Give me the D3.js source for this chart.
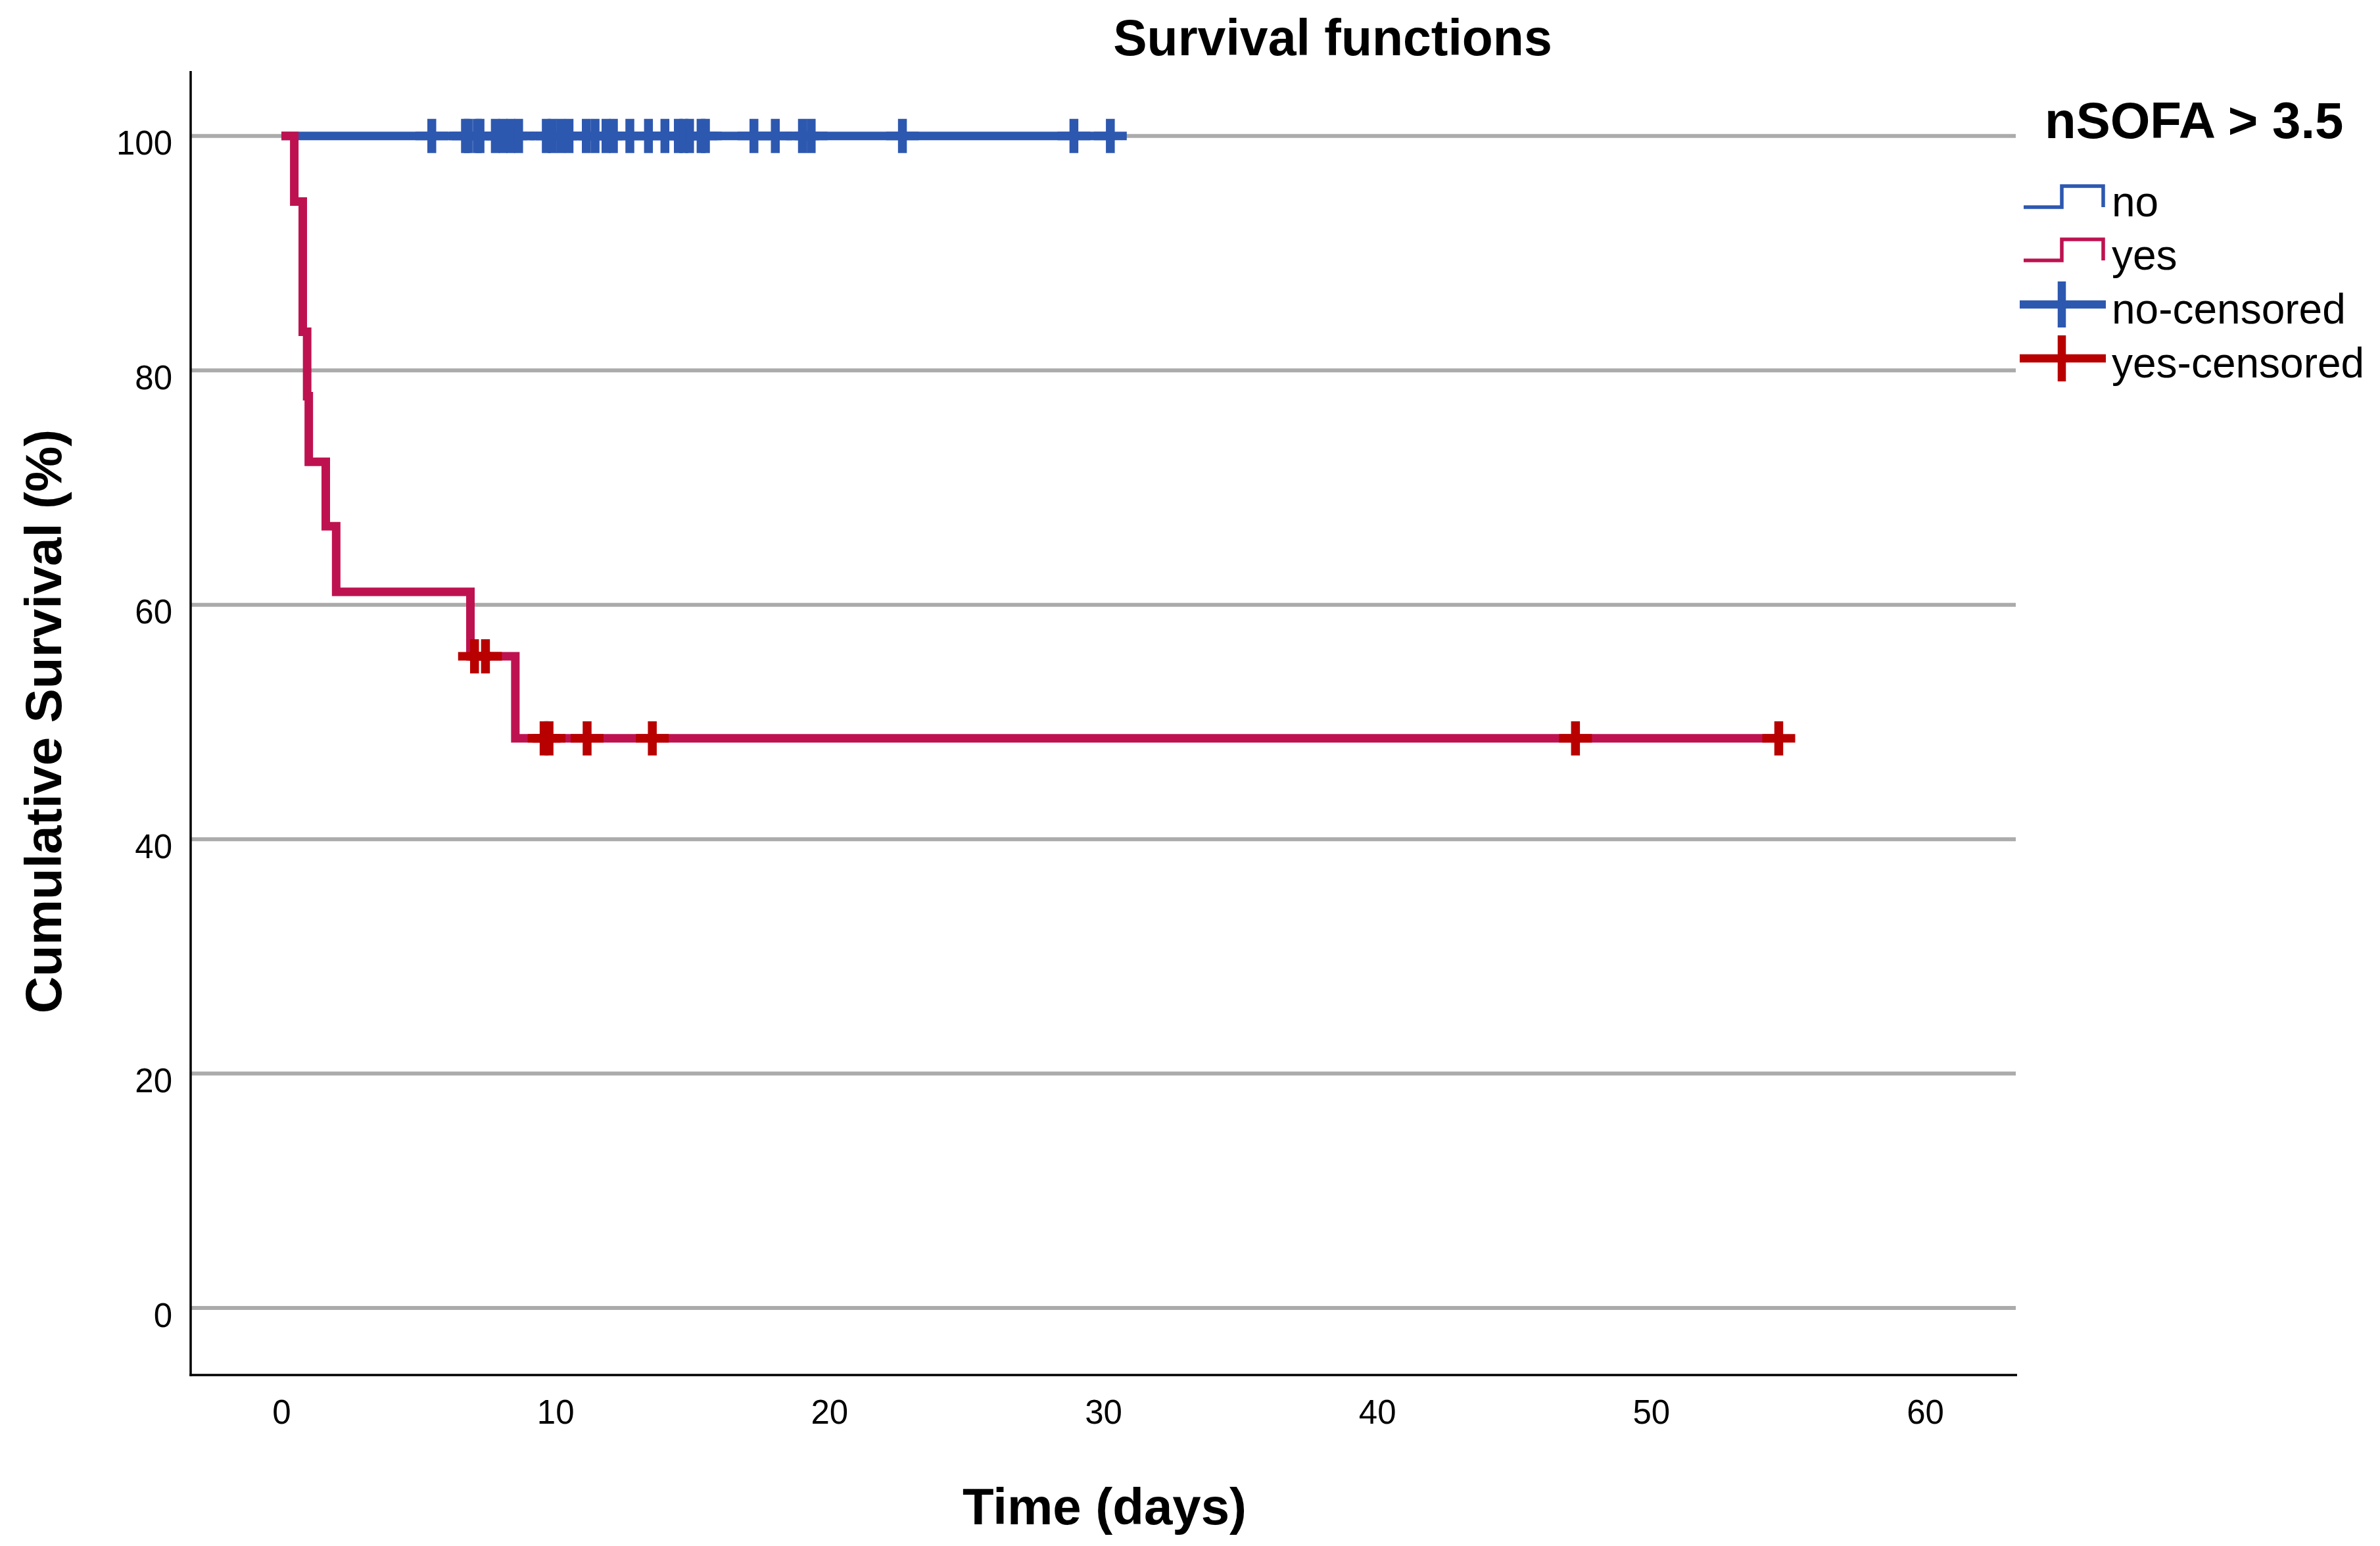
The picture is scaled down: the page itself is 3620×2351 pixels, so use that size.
<!DOCTYPE html>
<html>
<head>
<meta charset="utf-8">
<script src="https://cdn.jsdelivr.net/npm/d3@7"></script>
<style>
  html, body { margin: 0; padding: 0; background: #ffffff; }
  svg { display: block; }
  text { font-family: "Liberation Sans", Arial, sans-serif; fill: #000; }
</style>
</head>
<body>
<svg id="chart" width="3620" height="2351"></svg>
<script>
// ---------- data ----------
const chartTitle = "Survival functions";
const xLabel = "Time (days)";
const yLabel = "Cumulative Survival (%)";
const legendTitle = "nSOFA > 3.5";
const legendLabels = ["no", "yes", "no-censored", "yes-censored"];

const xTicks = [0, 10, 20, 30, 40, 50, 60];
const yTicks = [0, 20, 40, 60, 80, 100];

// group "yes": event times and survival (%) after each step
const yesTimes = [0, 0.47, 0.78, 0.94, 1.0, 1.62, 2.0, 6.9, 8.54];
const yesSurv  = [100, 94.4, 83.3, 77.8, 72.2, 66.7, 61.1, 55.6, 48.6];
const yesCensoredTimes = [7.05, 7.45, 9.59, 9.77, 11.16, 13.54, 47.24, 54.66];
const yesCensoredSurv  = [55.6, 55.6, 48.6, 48.6, 48.6, 48.6, 48.6, 48.6];

// group "no": no events, survival stays at 100 %
const noTimes = [0];
const noSurv  = [100];
const noCensoredTimes = [5.49, 6.72, 6.82, 7.15, 7.25, 7.81, 8.09, 8.37, 8.66,
  9.67, 9.89, 10.2, 10.5, 11.13, 11.45, 11.85, 12.12, 12.72, 13.4, 14.0,
  14.49, 14.69, 14.9, 15.32, 15.48, 17.25, 18.03, 19.02, 19.34, 22.67,
  28.93, 30.26];

// ---------- styles ----------
const colNo = "#2D58B0";
const colYes = "#BE1250";
const colYesCens = "#B80000";
const colGrid = "#ABABAB";

const svg = d3.select("#chart");

const x = d3.scaleLinear().domain([-3.312, 63.36]).range([290, 3068]);
const y = d3.scaleLinear().domain([-5.72, 105.54]).range([2091, 108]);

// gridlines
svg.append("g").selectAll("line").data(yTicks).join("line")
  .attr("x1", 290).attr("x2", 3066)
  .attr("y1", d => y(d)).attr("y2", d => y(d))
  .attr("stroke", colGrid).attr("stroke-width", 6);

// axes
const yAxis = svg.append("g").attr("transform", "translate(290,0)")
  .call(d3.axisLeft(y).tickValues(yTicks).tickSize(0).tickPadding(28).tickFormat(d3.format("d")));
yAxis.select(".domain").remove();
yAxis.selectAll("text").attr("font-size", 51).attr("dy", 28)
  .style("font-family", '"Liberation Sans", Arial, sans-serif').attr("fill", "#000");

const xAxis = svg.append("g").attr("transform", "translate(0,2091)")
  .call(d3.axisBottom(x).tickValues(xTicks).tickSize(0).tickPadding(38).tickFormat(d3.format("d")));
xAxis.select(".domain").remove();
xAxis.selectAll("text").attr("font-size", 51)
  .style("font-family", '"Liberation Sans", Arial, sans-serif').attr("fill", "#000");

// axis lines
svg.append("line").attr("x1", 290).attr("x2", 290).attr("y1", 108).attr("y2", 2092.5)
  .attr("stroke", "#000").attr("stroke-width", 3.5);
svg.append("line").attr("x1", 288.25).attr("x2", 3068).attr("y1", 2091).attr("y2", 2091)
  .attr("stroke", "#000").attr("stroke-width", 3.5);

// step lines
const step = d3.line().x(d => x(d[0])).y(d => y(d[1])).curve(d3.curveStepAfter);

const noPts = noTimes.map((t, i) => [t, noSurv[i]]);
noPts.push([d3.max(noCensoredTimes), noSurv[noSurv.length - 1]]);
const yesPts = yesTimes.map((t, i) => [t, yesSurv[i]]);
yesPts.push([d3.max(yesCensoredTimes), yesSurv[yesSurv.length - 1]]);

const arm = 25, half = 26, markW = 13.5;

function crosses(g, times, survs, color) {
  const data = times.map((t, i) => [t, survs[i]]);
  g.selectAll("line.h").data(data).join("line").attr("class", "h")
    .attr("x1", d => x(d[0]) - arm).attr("x2", d => x(d[0]) + arm)
    .attr("y1", d => y(d[1])).attr("y2", d => y(d[1]))
    .attr("stroke", color).attr("stroke-width", 13);
  g.selectAll("line.v").data(data).join("line").attr("class", "v")
    .attr("x1", d => x(d[0])).attr("x2", d => x(d[0]))
    .attr("y1", d => y(d[1]) - half).attr("y2", d => y(d[1]) + half)
    .attr("stroke", color).attr("stroke-width", markW);
}

svg.append("path").datum(noPts).attr("d", step).attr("fill", "none")
  .attr("stroke", colNo).attr("stroke-width", 13).attr("stroke-linejoin", "miter");
crosses(svg.append("g"), noCensoredTimes, noCensoredTimes.map(() => 100), colNo);

svg.append("path").datum(yesPts).attr("d", step).attr("fill", "none")
  .attr("stroke", colYes).attr("stroke-width", 13).attr("stroke-linejoin", "miter");
crosses(svg.append("g"), yesCensoredTimes, yesCensoredSurv, colYesCens);

// titles
svg.append("text").attr("x", 2027).attr("y", 84).attr("text-anchor", "middle")
  .attr("font-size", 77).attr("font-weight", "bold").text(chartTitle);
svg.append("text").attr("x", 1680).attr("y", 2318).attr("text-anchor", "middle")
  .attr("font-size", 78).attr("font-weight", "bold").text(xLabel);
svg.append("text").attr("transform", "translate(93,1097) rotate(-90)").attr("text-anchor", "middle")
  .attr("font-size", 78).attr("font-weight", "bold").text(yLabel);

// legend
const lg = svg.append("g");
lg.append("text").attr("x", 3110).attr("y", 210).attr("font-size", 78)
  .attr("font-weight", "bold").text(legendTitle);
const baselines = [329, 410, 492, 574];
const legendColors = [colNo, colYes, colNo, colYesCens];
legendLabels.forEach((lab, i) => {
  const b = baselines[i];
  lg.append("text").attr("x", 3212).attr("y", b).attr("font-size", 64).text(lab);
  if (i < 2) {
    lg.append("path")
      .attr("d", `M3078,${b - 14}H3136V${b - 46}H3199V${b - 14}`)
      .attr("fill", "none").attr("stroke", legendColors[i]).attr("stroke-width", 5.5);
  } else {
    lg.append("line").attr("x1", 3072).attr("x2", 3203).attr("y1", b - 29).attr("y2", b - 29)
      .attr("stroke", legendColors[i]).attr("stroke-width", 12.5);
    lg.append("line").attr("x1", 3136).attr("x2", 3136).attr("y1", b - 64).attr("y2", b + 6)
      .attr("stroke", legendColors[i]).attr("stroke-width", 12.5);
  }
});
</script>
</body>
</html>
